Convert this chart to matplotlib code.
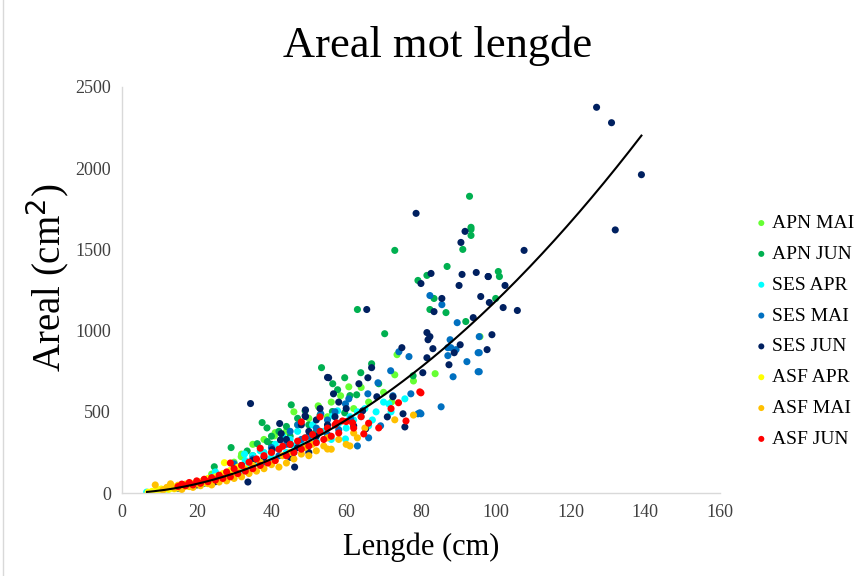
import numpy as np
import matplotlib
matplotlib.use("Agg")
import matplotlib.pyplot as plt
from matplotlib.lines import Line2D

#_____________________________________________________________________________
# data (lengde cm, areal cm2)

apn_mai_x = [24, 30, 31.9, 32, 35, 38, 40, 40.8, 41, 44, 46, 47, 50, 52.5, 52.6, 55, 56, 58.5, 60.7,
             62, 64, 66, 70, 72.2, 73, 73.6, 78, 83.8, 95.8]
apn_mai_y = [117, 190, 224, 240, 300, 330, 250, 352, 372, 380, 500, 420, 460, 537, 531, 470, 560, 599,
             654, 520, 650, 560, 620, 562, 728, 852, 690, 735, 963]

apn_jun_x = [24.7, 27, 29.2, 30, 33.5, 35, 36.2, 37.5, 38.8, 38.9, 40, 40, 42, 44, 45, 45.3, 47, 49,
             50, 51.8, 53, 53.4, 56.3, 56.4, 57.7, 59.6, 59.6, 61, 62.8, 63, 63.9, 66.8, 68.7, 70.3,
             73, 77.9, 79.2, 81.6, 82.4, 83.5, 86.7, 87, 91.2, 92, 93, 93.4, 93.4, 93.4, 100, 100.7, 101]
apn_jun_y = [162, 110, 280, 140, 259, 230, 304, 434, 401, 317, 300, 350, 380, 410, 350, 543, 460, 506,
             420, 372, 480, 772, 502, 673, 636, 710, 494, 600, 605, 1130, 741, 796, 673, 981,
             1494, 722, 1309, 1340, 1130, 1198, 1111, 1395, 1500, 1056, 1827, 1636, 1623, 1586, 1198,
             1364, 1333]

ses_apr_x = [6.6, 8, 10, 12, 14, 16, 18, 20, 22, 24, 25, 26, 28, 30, 32, 32.8, 33, 34, 35, 36, 37, 38,
             40, 41, 42, 43, 44, 45, 46, 47, 48, 49, 50, 51, 52, 53, 54, 55, 56, 56.4, 57.7, 58, 59.8,
             60, 61, 62, 63, 64, 65, 66, 67, 68, 70, 71.4, 72, 75.7]
ses_apr_y = [6, 0, 15, 25, 35, 45, 50, 70, 80, 100, 130, 90, 120, 160, 140, 240, 200, 175, 230, 190,
             260, 250, 220, 300, 270, 350, 250, 330, 290, 380, 300, 340, 350, 420, 320, 380, 380, 410,
             330, 475, 506, 430, 333, 400, 470, 450, 500, 470, 520, 414, 450, 500, 560, 549, 500, 580]

ses_mai_x = [22, 25, 28, 30, 33, 35, 38, 40, 42, 44, 45, 46, 47, 48, 50, 50, 52, 53.2, 55, 55, 57, 58,
             59.8, 60.7, 61.2, 63, 65.8, 66, 68.5, 69.2, 71.9, 72.5, 74.1, 76.8, 77.3, 79.2, 79.7, 80,
             82.4, 85.4, 85.6, 87.2, 87.2, 87.8, 88, 88.6, 89.4, 89.7, 92.3, 95.3, 95.3, 95.6, 95.6,
             95.6]
ses_mai_y = [60, 90, 120, 180, 140, 210, 190, 280, 230, 300, 380, 250, 420, 330, 300, 350, 400, 488,
             360, 450, 500, 390, 549, 580, 457, 290, 611, 340, 679, 414, 753, 599, 870, 840, 611, 488,
             494, 488, 1216, 531, 1160, 846, 895, 944, 895, 716, 883, 1049, 809, 864, 747, 864, 747,
             963]

ses_jun_x = [15, 20, 25, 28, 30, 32, 33.7, 34.4, 35, 38, 40.2, 42.2, 42.4, 42.6, 44, 45, 45, 46.2, 47,
             48, 49, 49.1, 49.1, 50, 50, 52, 52, 53, 55, 55, 55.3, 56.6, 57, 58, 60, 62, 63.4, 64.4,
             65.2, 65.5, 65.8, 66.8, 68.2, 71, 72.5, 74.9, 75.2, 75.7, 78.7, 80, 80.5, 81.6, 81.6,
             81.9, 82.4, 82.7, 83.2, 83.5, 85.6, 87.5, 88.9, 90.2, 90.5, 90.7, 91, 91.8, 94, 94.8, 96,
             97.7, 98, 98, 98.3, 99, 102, 102.5, 105.8, 107.6, 127, 131, 132, 139]
ses_jun_y = [30, 50, 70, 110, 150, 170, 68, 551, 200, 220, 267, 428, 327, 366, 330, 300, 220, 160, 280,
             420, 475, 512, 471, 380, 250, 350, 450, 520, 712, 420, 710, 611, 470, 560, 520, 414, 673,
             506, 395, 1130, 710, 772, 593, 469, 593, 895, 488, 407, 1722, 1290, 741, 988, 833, 944,
             963, 1352, 889, 1117, 1198, 790, 864, 1278, 913, 1543, 1346, 1611, 1080, 1358, 1210, 883,
             1333, 1333, 1173, 975, 1142, 1278, 1124, 1494, 2375, 2280, 1620, 1960]

asf_apr_x = [7, 8, 9, 9.5, 10, 10.5, 11, 12, 12.5, 13, 13.5, 14, 14.5, 15, 15.5, 16, 16.5, 17, 17.5,
             18, 18.5, 19, 20, 20.5, 21, 22, 22.5, 23, 24, 25, 26, 27, 27.4, 28, 29, 30, 31, 33, 35]
asf_apr_y = [5, 10, 12, 20, 15, 25, 18, 28, 22, 30, 35, 26, 40, 32, 45, 38, 50, 42, 55,
             48, 60, 52, 65, 58, 70, 80, 62, 90, 75, 100, 85, 120, 187, 110, 140, 130, 160, 150, 170]

asf_mai_x = [8.9, 11, 12, 13, 14, 15, 16, 17, 18, 19, 20, 21, 22, 23, 24, 25, 26, 27, 28, 29, 30, 31,
             32, 33, 34, 35, 36, 37, 38, 40, 41, 42, 43, 44, 45, 46, 48, 49, 50, 51, 52, 54, 55, 55,
             56, 58, 60, 61, 62, 63, 65, 73, 78]
asf_mai_y = [50, 20, 35, 57, 30, 48, 22, 55, 40, 35, 60, 45, 72, 58, 50, 85, 68, 95, 75, 110, 90, 130,
             100, 145, 120, 165, 135, 190, 150, 175, 200, 160, 230, 185, 250, 210, 240, 280, 230, 300,
             260, 290, 340, 271, 270, 330, 300, 290, 370, 340, 400, 451, 480]

asf_jun_x = [15, 16, 17, 18, 19, 20, 21, 22, 23, 24, 25, 26, 27, 28, 29, 29, 30, 31, 32, 33, 34, 35,
             36, 37, 37, 38, 39, 40, 41, 42, 43, 44, 45, 46, 47, 48, 48, 49, 50, 51, 52, 53, 53, 54,
             55, 56, 57, 57.4, 58, 59, 60, 61.7, 62, 64, 64.7, 66, 68.7, 72, 74, 76, 79.7, 80]
asf_jun_y = [40, 55, 45, 65, 50, 75, 60, 85, 70, 95, 80, 110, 90, 130, 185, 100, 150, 120, 170, 135,
             190, 150, 210, 276, 170, 230, 185, 250, 200, 270, 288, 230, 300, 250, 320, 438, 270, 340,
             290, 360, 310, 469, 380, 330, 400, 350, 420, 432, 370, 444, 440, 432, 400, 470, 364, 430,
             401, 520, 556, 444, 623, 617]

series = [
    ("APN MAI", apn_mai_x, apn_mai_y, "#66FF33"),
    ("APN JUN", apn_jun_x, apn_jun_y, "#00B050"),
    ("SES APR", ses_apr_x, ses_apr_y, "#00FFFF"),
    ("SES MAI", ses_mai_x, ses_mai_y, "#0070C0"),
    ("SES JUN", ses_jun_x, ses_jun_y, "#002060"),
    ("ASF APR", asf_apr_x, asf_apr_y, "#FFFF00"),
    ("ASF MAI", asf_mai_x, asf_mai_y, "#FFC000"),
    ("ASF JUN", asf_jun_x, asf_jun_y, "#FF0000"),
]

# power trendline y = a * x^b as shown in the chart, and its x span
trend_a = 0.196
trend_b = 1.89
trend_x = [6.7, 139]

x_ticks = [0, 20, 40, 60, 80, 100, 120, 140, 160]
y_ticks = [0, 500, 1000, 1500, 2000, 2500]

#_____________________________________________________________________________
def main():

    plt.rcParams["font.family"] = ["Liberation Serif", "DejaVu Serif"]

    fig = plt.figure(figsize=(8.56, 5.76), dpi=100)
    ax = fig.add_axes([0.1425, 0.144, 0.6985, 0.705])

    for name, xs, ys, col in series:
        ax.scatter(xs, ys, s=26, color=col, edgecolors="none", label=name, zorder=2)

    xf = np.linspace(trend_x[0], trend_x[1], 200)
    ax.plot(xf, trend_a * xf ** trend_b, color="black", lw=1.5, zorder=3)

    ax.set_xlim(0, 160)
    ax.set_ylim(0, 2500)
    ax.set_xticks(x_ticks)
    ax.set_yticks(y_ticks)
    ax.tick_params(length=0, labelsize=13, colors="#404040", pad=8)

    for s in ["top", "right"]:
        ax.spines[s].set_visible(False)
    for s in ["left", "bottom"]:
        ax.spines[s].set_color("#D9D9D9")
        ax.spines[s].set_linewidth(1.0)

    ax.set_xlabel("Lengde (cm)", fontsize=22, labelpad=8)
    ax.set_ylabel("Areal (cm$^2$)", fontsize=28)
    ax.yaxis.set_label_coords(-0.085, 0.53)
    fig.text(0.511, 0.921, "Areal mot lengde", fontsize=32, ha="center", va="center")

    ax.legend(loc="upper left", bbox_to_anchor=(1.04, 0.705), frameon=False, fontsize=14,
              handletextpad=0.05, labelspacing=0.68, markerscale=0.85, handlelength=1.0,
              borderaxespad=0)

    fig.add_artist(Line2D([0.004, 0.004], [0, 1], color="#D9D9D9", lw=1))

    fig.savefig("out.png", dpi=100)
    plt.close()

#main

#_____________________________________________________________________________
if __name__ == "__main__":

    main()
